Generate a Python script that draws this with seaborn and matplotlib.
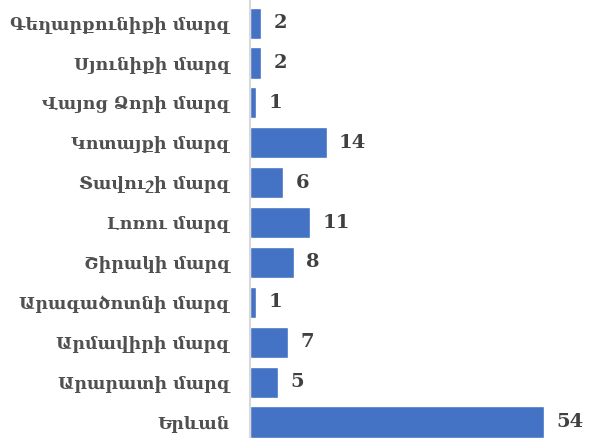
import pandas as pd
import matplotlib.pyplot as plt
import seaborn as sns

regions = ['Գեղարքունիքի մարզ', 'Սյունիքի մարզ', 'Վայոց Ձորի մարզ', 'Կոտայքի մարզ',
           'Տավուշի մարզ', 'Լոռու մարզ', 'Շիրակի մարզ', 'Արագածոտնի մարզ',
           'Արմավիրի մարզ', 'Արարատի մարզ', 'Երևան']
counts = [2, 2, 1, 14, 6, 11, 8, 1, 7, 5, 54]


def main():
    sns.set_theme(style="white")
    plt.rcParams['font.family'] = ['DejaVu Serif', 'DejaVu Sans']

    df = pd.DataFrame({'region': regions, 'count': counts})

    fig = plt.figure(figsize=(5.96, 4.38), dpi=100)
    ax = fig.add_axes([0.42, 0.0, 0.58, 1.0])
    sns.barplot(data=df, y='region', x='count', color='#4472C4', saturation=1,
                width=0.78, ax=ax)

    # value labels to the right of each bar
    for i, v in enumerate(counts):
        ax.text(v + 2.3, i, str(v), va='center', ha='left', fontsize=14,
                fontweight='bold', color='#404040')

    ax.set_xlim(0, 63.5)
    ax.set_ylim(10.4, -0.58)
    ax.set_xlabel('')
    ax.set_ylabel('')
    ax.set_xticks([])
    for s in ['top', 'right', 'bottom']:
        ax.spines[s].set_visible(False)
    ax.spines['left'].set_color('#d9d9d9')
    ax.spines['left'].set_linewidth(1.5)
    ax.tick_params(axis='y', length=0, pad=15)
    for lbl in ax.get_yticklabels():
        lbl.set_fontsize(12.5)
        lbl.set_fontweight('bold')
        lbl.set_color('#505050')

    fig.savefig('out.png', dpi=100)
    plt.close(fig)


if __name__ == "__main__":
    main()
